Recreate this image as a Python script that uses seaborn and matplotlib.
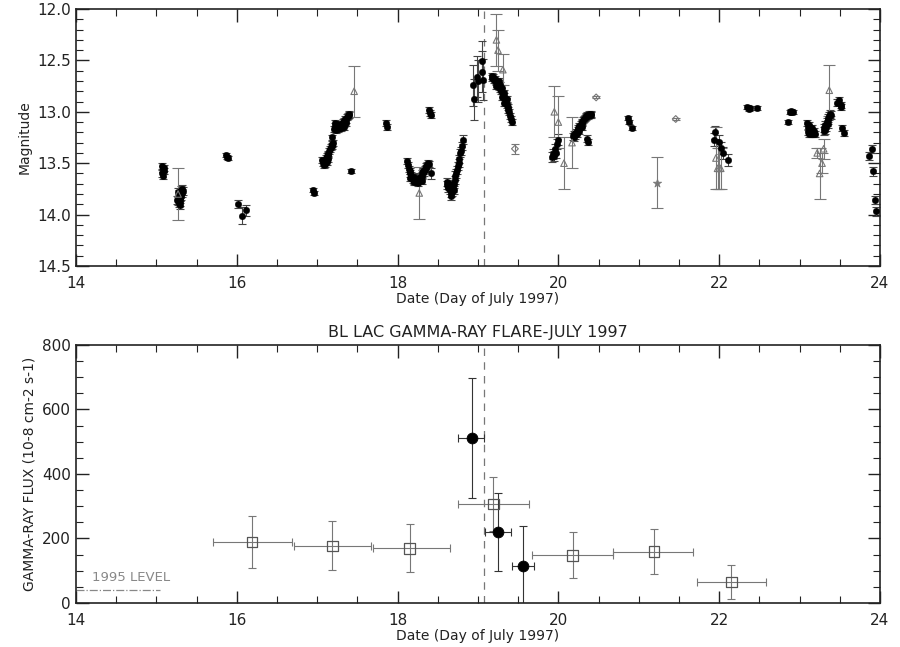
import numpy as np
import pandas as pd
import matplotlib
matplotlib.use("Agg")
import matplotlib.pyplot as plt
import seaborn as sns
from matplotlib.ticker import MultipleLocator

# ---------------- optical data (R magnitude) ----------------
dot_x = [15.07, 15.08, 15.09, 15.07, 15.08, 15.09,
         15.27, 15.28, 15.29, 15.30, 15.27, 15.28, 15.29, 15.30, 15.31, 15.32, 15.31, 15.32, 15.30, 15.28, 15.33, 15.26,
         15.87, 15.88, 15.89,
         16.02, 16.07, 16.12,
         16.95, 16.96,
         17.06, 17.07, 17.08, 17.09, 17.10, 17.11, 17.12, 17.13, 17.14, 17.15, 17.16, 17.17, 17.18, 17.19, 17.20, 17.10, 17.12, 17.14,
         17.19,
         17.21, 17.22, 17.23, 17.24, 17.25, 17.26, 17.27, 17.28, 17.29, 17.30, 17.31, 17.32, 17.33, 17.34, 17.35, 17.36, 17.37, 17.38, 17.39, 17.40, 17.36, 17.33, 17.30, 17.25, 17.22,
         17.42,
         17.86, 17.87,
         18.12, 18.13, 18.14, 18.15, 18.16, 18.17, 18.18, 18.19, 18.20, 18.21, 18.22, 18.23, 18.24, 18.25, 18.26, 18.27, 18.28, 18.29, 18.30, 18.31, 18.32, 18.33, 18.34, 18.35, 18.36, 18.37, 18.38, 18.39, 18.15, 18.20, 18.25, 18.30,
         18.42,
         18.39, 18.40, 18.41,
         18.61, 18.62, 18.63, 18.64, 18.65, 18.66, 18.67, 18.68, 18.69, 18.70, 18.71, 18.72, 18.73, 18.74, 18.75, 18.76, 18.77, 18.78, 18.79, 18.80, 18.82, 18.66, 18.68, 18.70,
         18.94, 18.95, 18.99, 19.00, 19.05, 19.05, 19.06,
         19.17, 19.18, 19.19, 19.20, 19.21, 19.22, 19.23, 19.24, 19.25, 19.26, 19.27, 19.28, 19.29, 19.30, 19.31, 19.32, 19.33, 19.34, 19.35, 19.36, 19.37, 19.38, 19.39, 19.40, 19.41, 19.42, 19.22, 19.26, 19.30, 19.33, 19.36,
         19.92, 19.93, 19.95, 19.96, 19.98, 20.00, 19.97,
         20.18, 20.19, 20.20, 20.21, 20.22, 20.23, 20.24, 20.25, 20.26, 20.27, 20.28, 20.29, 20.30, 20.31, 20.32, 20.33, 20.34, 20.35, 20.36, 20.37, 20.38, 20.39, 20.40, 20.41, 20.26, 20.30,
         20.36, 20.37,
         20.87, 20.88, 20.92,
         21.95, 21.94, 22.00, 22.02, 22.05, 22.11,
         22.35, 22.37, 22.38, 22.47,
         22.86, 22.88, 22.90, 22.92, 22.89,
         23.09, 23.10, 23.11, 23.12, 23.13, 23.14, 23.15, 23.16, 23.17, 23.18, 23.19, 23.12,
         23.30, 23.31, 23.32, 23.33, 23.34, 23.35, 23.36, 23.37, 23.38, 23.39, 23.32, 23.35,
         23.47, 23.49, 23.51, 23.52,
         23.53, 23.55,
         23.86, 23.90, 23.91, 23.94, 23.95]
dot_y = [13.53, 13.56, 13.58, 13.60, 13.62, 13.55,
         13.78, 13.80, 13.83, 13.85, 13.87, 13.89, 13.91, 13.88, 13.82, 13.79, 13.76, 13.75, 13.80, 13.84, 13.77, 13.86,
         13.42, 13.44, 13.45,
         13.90, 14.01, 13.96,
         13.76, 13.79,
         13.47, 13.50, 13.52, 13.49, 13.47, 13.45, 13.43, 13.41, 13.42, 13.38, 13.36, 13.34, 13.33, 13.31, 13.30, 13.51, 13.49, 13.46,
         13.25,
         13.17, 13.14, 13.18, 13.15, 13.12, 13.17, 13.15, 13.13, 13.16, 13.12, 13.14, 13.10, 13.12, 13.09, 13.07, 13.08, 13.05, 13.04, 13.03, 13.02, 13.11, 13.15, 13.16, 13.15, 13.11,
         13.58,
         13.11, 13.15,
         13.48, 13.52, 13.56, 13.60, 13.58, 13.62, 13.64, 13.66, 13.63, 13.67, 13.65, 13.68, 13.66, 13.69, 13.67, 13.65, 13.66, 13.63, 13.62, 13.60, 13.58, 13.59, 13.56, 13.55, 13.53, 13.52, 13.50, 13.51, 13.64, 13.68, 13.64, 13.67,
         13.60,
         12.98, 13.01, 13.03,
         13.68, 13.71, 13.74, 13.70, 13.76, 13.79, 13.82, 13.78, 13.74, 13.70, 13.66, 13.62, 13.60, 13.57, 13.53, 13.50, 13.46, 13.40, 13.38, 13.33, 13.27, 13.73, 13.70, 13.76,
         12.74, 12.88, 12.66, 12.70, 12.51, 12.61, 12.69,
         12.65, 12.67, 12.66, 12.69, 12.68, 12.71, 12.70, 12.73, 12.72, 12.76, 12.74, 12.78, 12.80, 12.77, 12.83, 12.85, 12.82, 12.88, 12.90, 12.93, 12.95, 12.98, 13.00, 13.04, 13.07, 13.10, 12.75, 12.70, 12.86, 12.91, 12.88,
         13.44, 13.41, 13.43, 13.36, 13.31, 13.27, 13.40,
         13.24, 13.22, 13.25, 13.23, 13.20, 13.22, 13.18, 13.16, 13.14, 13.15, 13.12, 13.10, 13.11, 13.08, 13.07, 13.06, 13.05, 13.04, 13.03, 13.04, 13.02, 13.03, 13.02, 13.03, 13.19, 13.15,
         13.26, 13.29,
         13.06, 13.10, 13.16,
         13.20, 13.27, 13.29, 13.35, 13.40, 13.47,
         12.95, 12.97, 12.96, 12.96,
         13.10, 13.00, 13.00, 13.00, 12.99,
         13.11, 13.15, 13.20, 13.13, 13.18, 13.22, 13.16, 13.20, 13.22, 13.19, 13.22, 13.22,
         13.19, 13.16, 13.13, 13.15, 13.10, 13.08, 13.06, 13.04, 13.02, 13.03, 13.18, 13.12,
         12.91, 12.89, 12.93, 12.95,
         13.16, 13.21,
         13.43, 13.36, 13.58, 13.86, 13.97]
dot_err = ([0.03] * 6 + [0.04] * 16 + [0.02] * 3 + [0.04, 0.08, 0.05] + [0.02] * 2 + [0.03] * 18 + [0.02]
           + [0.03] * 25 + [0.02] + [0.03] * 2 + [0.03] * 32 + [0.05] + [0.03] * 3 + [0.04] * 24
           + [0.2] * 7 + [0.03] * 31 + [0.05] * 7 + [0.03] * 26 + [0.03] * 2 + [0.02] * 3
           + [0.06] * 6 + [0.02] * 4 + [0.02] * 5 + [0.03] * 12 + [0.04] * 12 + [0.03] * 4 + [0.03] * 2
           + [0.04] * 5)

tri_x = [15.27, 17.46, 18.27, 19.23, 19.25, 19.31, 19.95, 20.00, 20.07, 20.17,
         21.96, 21.98, 22.00, 22.02, 23.22, 23.25, 23.28, 23.30, 23.37]
tri_y = [13.80, 12.80, 13.79, 12.30, 12.40, 12.59, 13.00, 13.10, 13.50, 13.30,
         13.45, 13.55, 13.55, 13.55, 13.40, 13.60, 13.50, 13.36, 12.79]
tri_err = [0.25, 0.25, 0.25, 0.25, 0.2, 0.15, 0.25, 0.25, 0.25, 0.25,
           0.3, 0.2, 0.2, 0.2, 0.05, 0.25, 0.1, 0.1, 0.25]

dia_x = [19.46, 20.47, 21.46]
dia_y = [13.36, 12.86, 13.07]
dia_err = [0.05, 0.01, 0.01]

star_x = [21.23]
star_y = [13.69]
star_err = [0.25]

# ---------------- gamma-ray data (EGRET) ----------------
sq_x = [16.19, 17.19, 18.15, 19.19, 20.18, 21.19, 22.15]
sq_y = [189, 177, 170, 307, 148, 159, 65]
sq_xlo = [15.70, 16.71, 17.69, 18.75, 19.67, 20.68, 21.72]
sq_xhi = [16.69, 17.67, 18.65, 19.63, 20.68, 21.68, 22.58]
sq_yerr = [80, 76, 75, 85, 72, 70, 52]

gd_x = [18.93, 19.25, 19.56]
gd_y = [511, 220, 115]
gd_xlo = [18.75, 19.09, 19.42]
gd_xhi = [19.07, 19.41, 19.70]
gd_yerr = [185, 120, 125]

level_1995 = 40
flare_day = 19.08

# ---------------- figure ----------------
sns.set_theme(style="ticks")
plt.rcParams['font.family'] = ['DejaVu Sans']
plt.rcParams['text.color'] = '#222222'
plt.rcParams['axes.labelcolor'] = '#222222'
fig = plt.figure(figsize=(9.0, 6.47), dpi=100)
ax1 = fig.add_axes([0.0844, 0.589, 0.8933, 0.397])
ax2 = fig.add_axes([0.0844, 0.068, 0.8933, 0.399])

ebc = '#444444'
grey = '#777777'

# optical panel
ax1.errorbar(dot_x, dot_y, yerr=dot_err, fmt='none', ecolor=ebc, elinewidth=0.8, capsize=3, capthick=0.8, zorder=2)
ax1.errorbar(tri_x, tri_y, yerr=tri_err, fmt='none', ecolor=grey, elinewidth=0.8, capsize=4, capthick=0.8, zorder=2)
ax1.errorbar(dia_x, dia_y, yerr=dia_err, fmt='none', ecolor=grey, elinewidth=0.8, capsize=3, capthick=0.8, zorder=2)
ax1.errorbar(star_x, star_y, yerr=star_err, fmt='none', ecolor=grey, elinewidth=0.8, capsize=4, capthick=0.8, zorder=2)

df_dot = pd.DataFrame({'x': dot_x, 'y': dot_y})
sns.scatterplot(data=df_dot, x='x', y='y', ax=ax1, color='black', s=22, marker='o', edgecolor='black', linewidth=0.3, zorder=3)
sns.scatterplot(x=tri_x, y=tri_y, ax=ax1, marker='^', s=22, facecolor='none', edgecolor=grey, linewidth=0.8, zorder=3)
sns.scatterplot(x=dia_x, y=dia_y, ax=ax1, marker='D', s=12, facecolor='none', edgecolor=grey, linewidth=0.8, zorder=3)
sns.scatterplot(x=star_x, y=star_y, ax=ax1, marker='*', s=40, color=grey, edgecolor=grey, linewidth=0.5, zorder=3)

ax1.axvline(flare_day, color=grey, linestyle=(0, (6, 5)), linewidth=0.9, zorder=1)
ax1.set_xlim(14, 24)
ax1.set_ylim(14.5, 12.0)
ax1.set_xlabel('Date (Day of July 1997)', fontsize=10, labelpad=1)
ax1.set_ylabel('Magnitude', fontsize=10, labelpad=4)
ax1.yaxis.set_major_locator(MultipleLocator(0.5))
ax1.yaxis.set_minor_locator(MultipleLocator(0.1))
ax1.yaxis.set_major_formatter(matplotlib.ticker.FormatStrFormatter('%.1f'))

# gamma panel
ax2.errorbar(sq_x, sq_y, yerr=sq_yerr,
             xerr=[np.array(sq_x) - np.array(sq_xlo), np.array(sq_xhi) - np.array(sq_x)],
             fmt='none', ecolor=grey, elinewidth=0.8, capsize=3, capthick=0.8, zorder=2)
ax2.errorbar(gd_x, gd_y, yerr=gd_yerr,
             xerr=[np.array(gd_x) - np.array(gd_xlo), np.array(gd_xhi) - np.array(gd_x)],
             fmt='none', ecolor='#333333', elinewidth=0.8, capsize=3, capthick=0.8, zorder=2)
sns.scatterplot(x=sq_x, y=sq_y, ax=ax2, marker='s', s=60, facecolor='none', edgecolor='#555555', linewidth=0.9, zorder=3)
sns.scatterplot(x=gd_x, y=gd_y, ax=ax2, marker='o', s=60, color='black', edgecolor='black', zorder=3)

ax2.axvline(flare_day, color=grey, linestyle=(0, (6, 5)), linewidth=0.9, zorder=1)
ax2.plot([14.0, 15.05], [level_1995, level_1995], color='#888888', linestyle='-.', linewidth=0.9)
ax2.text(14.2, level_1995 + 18, '1995 LEVEL', color='#888888', fontsize=9.5, va='bottom', ha='left')
ax2.set_xlim(14, 24)
ax2.set_ylim(0, 800)
ax2.set_xlabel('Date (Day of July 1997)', fontsize=10, labelpad=1)
ax2.set_ylabel('GAMMA-RAY FLUX (10-8 cm-2 s-1)', fontsize=10, labelpad=4)
ax2.set_title('BL LAC GAMMA-RAY FLARE-JULY 1997', fontsize=11.5, pad=6)
ax2.yaxis.set_major_locator(MultipleLocator(200))
ax2.yaxis.set_minor_locator(MultipleLocator(50))

for ax in (ax1, ax2):
    ax.xaxis.set_major_locator(MultipleLocator(2))
    ax.xaxis.set_minor_locator(MultipleLocator(0.5))
    ax.tick_params(which='both', direction='in', top=True, right=True, labelsize=11,
                   color='#222222', labelcolor='#222222')
    ax.tick_params(axis='x', which='major', pad=7)
    ax.tick_params(which='major', length=9, width=1.0)
    ax.tick_params(which='minor', length=5, width=0.8)
    for sp in ax.spines.values():
        sp.set_linewidth(1.2)
        sp.set_color('#222222')
    ax.set_facecolor('white')

fig.savefig('out.png', dpi=100, facecolor='white')
